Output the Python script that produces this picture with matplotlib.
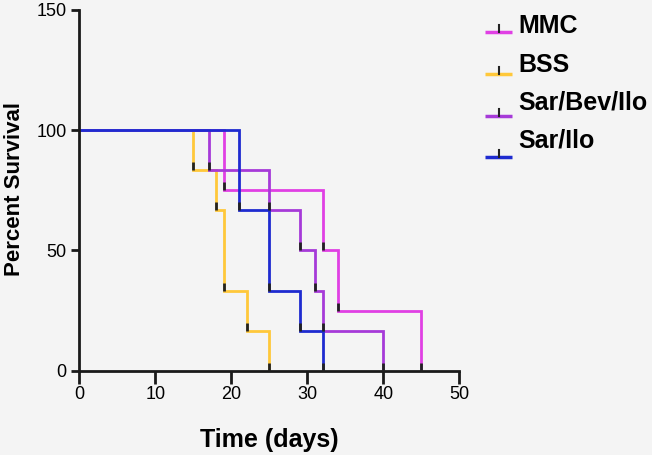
import matplotlib
matplotlib.use("Agg")
import matplotlib.pyplot as plt
from matplotlib.path import Path
from matplotlib.lines import Line2D

plt.rcParams['font.family'] = ['Liberation Sans', 'DejaVu Sans']

groups = ["MMC", "BSS", "Sar/Bev/Ilo", "Sar/Ilo"]
colors = ["#e040e4", "#ffc83a", "#a63ad8", "#1e2bd0"]

# event times and survival after each event (percent)
mmc_t = [19, 32, 34, 45]
mmc_s = [75, 50, 25, 0]
bss_t = [15, 18, 19, 22, 25]
bss_s = [83.3, 66.7, 33.3, 16.7, 0]
sbi_t = [17, 25, 29, 31, 32, 40]
sbi_s = [83.3, 66.7, 50, 33.3, 16.7, 0]
si_t = [21, 25, 29, 32]
si_s = [66.7, 33.3, 16.7, 0]

series = [(mmc_t, mmc_s), (bss_t, bss_s), (sbi_t, sbi_s), (si_t, si_s)]

tick_marker = Path([(0, 0), (0, 1)], [Path.MOVETO, Path.LINETO])

W, H = 652, 455
bg = "#f4f4f4"
fig = plt.figure(figsize=(W / 100, H / 100), dpi=100, facecolor=bg)
ax = fig.add_axes([79.3 / W, 1 - 370.7 / H, 380 / W, 361 / H], facecolor=bg)

draw_order = [0, 2, 1, 3]
for i in draw_order:
    t, s = series[i]
    xs = [0] + list(t)
    ys = [100] + list(s)
    ax.step(xs, ys, where='post', color=colors[i], lw=2, solid_joinstyle='miter', zorder=2 + i * 0.1)
    ax.plot(t, s, linestyle='none', marker=tick_marker, ms=12, mec='#222222', mew=2, zorder=5)

ax.set_xlim(0, 50)
ax.set_ylim(0, 150)
ax.set_xticks([0, 10, 20, 30, 40, 50])
ax.set_yticks([0, 50, 100, 150])
for sp in ['top', 'right']:
    ax.spines[sp].set_visible(False)
for sp in ['left', 'bottom']:
    ax.spines[sp].set_linewidth(2)
    ax.spines[sp].set_color('#1a1a1a')
ax.tick_params(axis='x', length=9, width=2, colors='#1a1a1a', labelsize=13, pad=2, labelcolor='black')
ax.tick_params(axis='y', length=6, width=2, colors='#1a1a1a', labelsize=13, pad=3, labelcolor='black')
ax.set_xlabel("Time (days)", fontsize=18, fontweight='bold')
ax.xaxis.set_label_coords(0.5, (370.7 - 428) / 361)
ax.set_ylabel("Percent Survival", fontsize=16, fontweight='bold')
ax.yaxis.set_label_coords((24.5 - 79.3) / 380, (370.7 - 189) / 361)

# legend drawn in figure pixel coordinates
text_base = [33, 72, 110, 148]
line_y = [32, 74, 116, 157]
for name, c, tb, ly in zip(groups, colors, text_base, line_y):
    yf = 1 - ly / H
    fig.add_artist(Line2D([485 / W, 512 / W], [yf, yf], color=c, lw=2.5, solid_capstyle='butt'))
    fig.add_artist(Line2D([499 / W, 499 / W], [yf, 1 - (ly - 7) / H], color='#222222', lw=1.5))
    fig.text(518 / W, 1 - tb / H, name, fontsize=18, fontweight='bold', va='baseline', ha='left')

fig.savefig("out.png", dpi=100, facecolor=bg)
